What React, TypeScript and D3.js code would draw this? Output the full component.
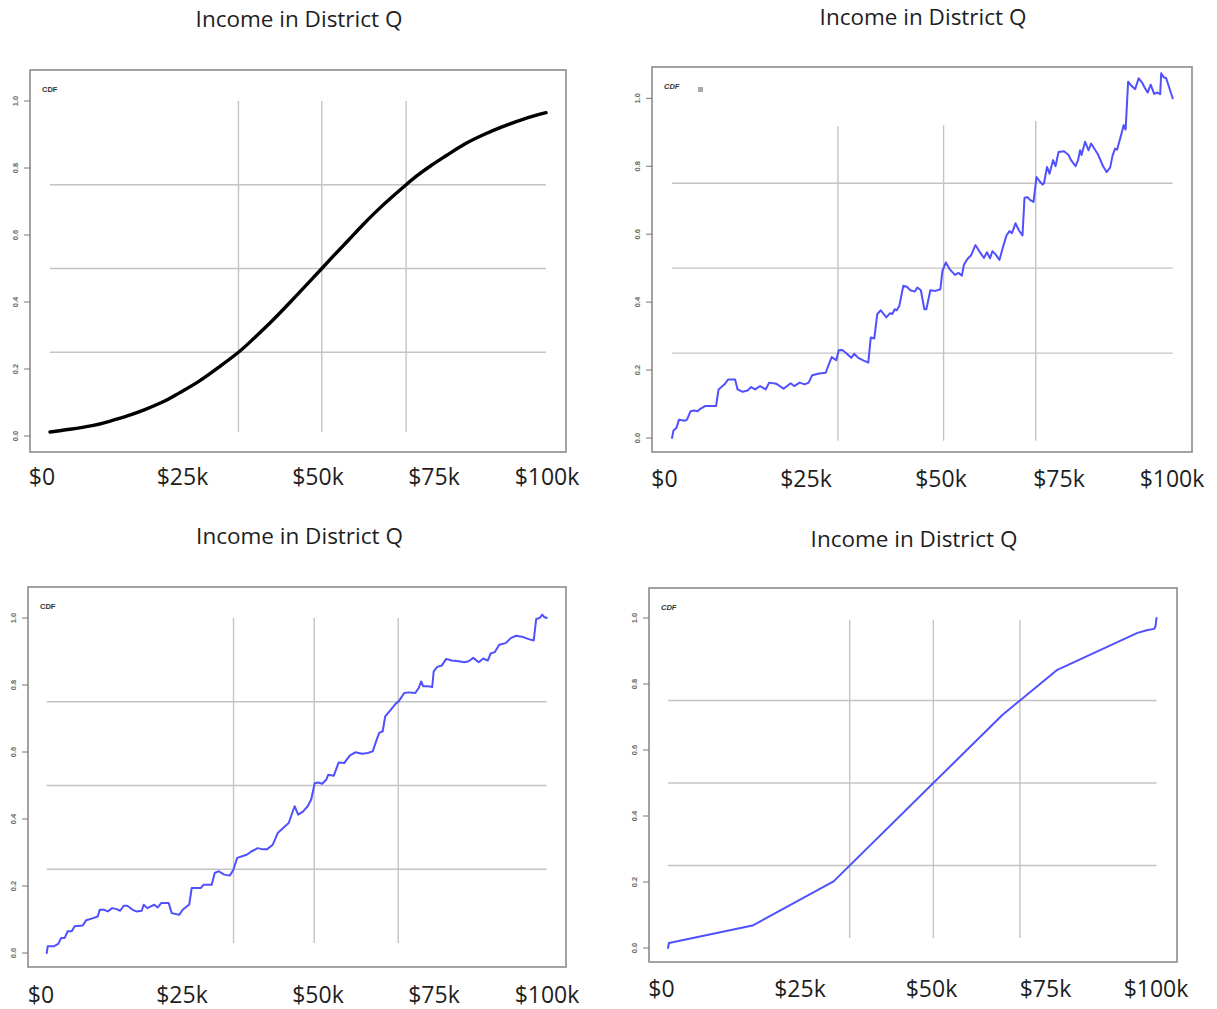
import React from 'react';
import * as d3 from 'd3';

// Four empirical CDF panels, "Income in District Q"
const W = 1217;
const H = 1009;

const TITLE = 'Income in District Q';
const X_LABELS = ['$0', '$25k', '$50k', '$75k', '$100k'];
const X_LABEL_VALUES = [0, 25, 50, 75, 100];
const Y_TICKS = [0, 0.2, 0.4, 0.6, 0.8, 1.0];
const QUARTILES = [0.25, 0.5, 0.75];

// top left: smooth theoretical CDF (income in $k)
const SMOOTH_INCOME = [
  0, 4, 8.5, 12, 15.6, 19, 22.8, 26, 30, 34, 38, 41, 44.4, 47.5, 50.1,
  54.8, 57.5, 60.2, 63, 65.9, 69, 71.8, 74, 76.7, 80, 83.8, 87.5, 91, 95.5, 100,
];
const SMOOTH_CDF = [
  0.012, 0.02, 0.031, 0.044, 0.06, 0.078, 0.102, 0.128, 0.163, 0.205, 0.25, 0.29, 0.338, 0.385, 0.426,
  0.5, 0.543, 0.585, 0.629, 0.672, 0.714, 0.75, 0.777, 0.806, 0.838, 0.873, 0.9, 0.922, 0.946, 0.965,
];

// top right: noisy sample curve
const NOISY_A_INCOME = [
  0, 0.3, 0.9, 1.4, 2.6, 3.0, 3.7, 4.4, 5.1, 5.5,
  6.6, 8.0, 8.8, 9.3, 10.5, 11.2, 12.6, 13.1, 14.1, 15.1,
  15.8, 16.6, 17.6, 18.7, 19.4, 20.8, 22.3, 23.7, 24.4, 25.5,
  26.5, 27.3, 28.0, 29.4, 30.7, 31.2, 31.9, 32.8, 33.3, 34.0,
  34.7, 35.8, 36.4, 37.2, 38.3, 39.2, 39.7, 40.4, 41.0, 41.7,
  42.8, 43.5, 44.0, 44.5, 44.9, 45.4, 46.2, 46.9, 47.6, 48.5,
  49.0, 49.7, 50.4, 50.8, 51.6, 52.6, 53.6, 54.0, 54.7, 55.4,
  56.5, 57.2, 57.9, 58.3, 59.0, 59.7, 60.6, 61.5, 62.3, 62.9,
  63.5, 64.0, 64.7, 65.4, 66.1, 66.8, 67.4, 67.9, 68.6, 69.3,
  70.0, 70.4, 71.0, 71.5, 72.2, 72.8, 73.3, 74.0, 74.3, 74.9,
  75.4, 76.1, 76.6, 77.2, 78.3, 79.2, 79.7, 80.6, 81.1, 81.5,
  81.8, 82.5, 83.2, 83.7, 85.0, 86.1, 86.8, 87.5, 88.0, 88.5,
  88.9, 89.7, 90.2, 90.6, 91.1, 91.8, 92.5, 93.2, 93.9, 94.4,
  95.0, 95.6, 96.3, 97.0, 97.5, 97.7, 98.2, 98.7, 100,
];
const NOISY_A_CDF = [
  0, 0.022, 0.03, 0.054, 0.051, 0.054, 0.079, 0.081, 0.079, 0.084,
  0.094, 0.094, 0.094, 0.143, 0.158, 0.172, 0.172, 0.143, 0.136, 0.14,
  0.15, 0.143, 0.153, 0.143, 0.163, 0.16, 0.145, 0.161, 0.153, 0.163,
  0.158, 0.163, 0.185, 0.19, 0.192, 0.212, 0.238, 0.229, 0.258, 0.259,
  0.251, 0.236, 0.248, 0.236, 0.228, 0.222, 0.296, 0.293, 0.365, 0.376,
  0.355, 0.367, 0.365, 0.379, 0.376, 0.389, 0.448, 0.445, 0.435, 0.431,
  0.443, 0.435, 0.379, 0.379, 0.435, 0.433, 0.438, 0.491, 0.517, 0.498,
  0.48, 0.486, 0.478, 0.51, 0.527, 0.537, 0.568, 0.547, 0.53, 0.547,
  0.529, 0.55, 0.539, 0.524, 0.562, 0.596, 0.609, 0.603, 0.632, 0.611,
  0.596, 0.707, 0.709, 0.701, 0.695, 0.768, 0.758, 0.746, 0.75, 0.798,
  0.778, 0.818, 0.8, 0.842, 0.844, 0.833, 0.818, 0.8, 0.818, 0.847,
  0.833, 0.872, 0.847, 0.867, 0.837, 0.8, 0.783, 0.796, 0.832, 0.852,
  0.849, 0.892, 0.921, 0.908, 1.049, 1.036, 1.027, 1.059, 1.046, 1.032,
  1.017, 1.04, 1.013, 1.017, 1.012, 1.074, 1.062, 1.059, 1.0,
];

// bottom left: second noisy sample curve
const NOISY_B_INCOME = [
  0, 0.2, 1.4, 2.3, 2.9, 3.6, 4.2, 5.0, 5.6, 7.2,
  7.9, 9.3, 10.2, 10.6, 11.5, 12.2, 13.1, 14.0, 14.7, 15.4,
  16.1, 17.2, 17.9, 19.0, 19.4, 20.1, 21.5, 22.2, 22.9, 24.4,
  25.0, 26.5, 27.2, 28.0, 28.5, 29.0, 30.8, 31.4, 33.0, 33.6,
  34.4, 35.5, 36.6, 37.3, 38.1, 39.1, 40.1, 40.9, 42.2, 43.0,
  44.1, 45.2, 46.2, 47.3, 48.4, 49.1, 49.6, 50.3, 51.3, 52.2,
  52.9, 53.6, 54.3, 55.1, 55.9, 56.3, 57.4, 58.4, 59.5, 60.6,
  61.7, 63.1, 64.2, 65.2, 66.0, 66.5, 67.2, 67.7, 68.8, 69.9,
  70.4, 71.5, 72.4, 73.7, 74.4, 74.9, 75.3, 76.3, 77.1, 77.4,
  78.1, 79.0, 79.9, 81.0, 82.4, 83.5, 84.4, 85.3, 86.4, 87.3,
  88.2, 88.8, 89.6, 90.5, 91.8, 92.8, 93.9, 95.3, 96.4, 97.4,
  97.9, 98.6, 99.1, 99.5, 100,
];
const NOISY_B_CDF = [
  0, 0.02, 0.02, 0.027, 0.045, 0.045, 0.065, 0.065, 0.08, 0.082,
  0.098, 0.104, 0.109, 0.129, 0.129, 0.124, 0.134, 0.131, 0.126, 0.141,
  0.141, 0.129, 0.124, 0.126, 0.144, 0.134, 0.144, 0.136, 0.149, 0.149,
  0.119, 0.114, 0.129, 0.139, 0.144, 0.194, 0.194, 0.204, 0.204, 0.239,
  0.244, 0.234, 0.231, 0.247, 0.284, 0.289, 0.294, 0.303, 0.313, 0.31,
  0.31, 0.323, 0.358, 0.373, 0.388, 0.418, 0.438, 0.413, 0.423, 0.438,
  0.458, 0.507, 0.509, 0.505, 0.517, 0.532, 0.529, 0.569, 0.567, 0.589,
  0.599, 0.595, 0.597, 0.602, 0.637, 0.657, 0.662, 0.706, 0.726, 0.746,
  0.751, 0.776, 0.778, 0.776, 0.791, 0.811, 0.796, 0.796, 0.794, 0.841,
  0.854, 0.858, 0.878, 0.873, 0.871, 0.868, 0.871, 0.881, 0.868, 0.879,
  0.873, 0.894, 0.898, 0.92, 0.925, 0.94, 0.947, 0.943, 0.937, 0.933,
  0.997, 1.0, 1.01, 1.003, 1.0,
];

// bottom right: piecewise linear curve from a few knots
const COARSE_INCOME = [0, 0.2, 17.3, 33.9, 68.5, 79.7, 96.1, 98.0, 99.5, 99.8, 100];
const COARSE_CDF = [0, 0.015, 0.068, 0.202, 0.707, 0.843, 0.955, 0.963, 0.967, 0.975, 1.0];

const BLUE = '#5050ff';
const FONT = "'Open Sans', sans-serif";

const PANELS = [
  {
    id: 'p1', income: SMOOTH_INCOME, cdf: SMOOTH_CDF, smooth: true, color: '#000', lw: 3.4,
    box: [30, 70, 566, 452], plotX: [50, 546], plotY: [436, 101],
    title: [299, 27], labelX: [42, 182.5, 318, 434, 547], labelY: 485,
    vTop: [1, 1, 1], vBottom: 0.012, italic: false, marker: false,
  },
  {
    id: 'p2', income: NOISY_A_INCOME, cdf: NOISY_A_CDF, smooth: false, color: BLUE, lw: 2,
    box: [652, 67, 1192, 452], plotX: [672, 1172.7], plotY: [438, 98.3],
    title: [923, 25], labelX: [664.5, 806, 941, 1059, 1172], labelY: 487,
    vTop: [0.918, 0.921, 0.933], vBottom: -0.008, italic: true, marker: true,
  },
  {
    id: 'p3', income: NOISY_B_INCOME, cdf: NOISY_B_CDF, smooth: false, color: BLUE, lw: 2,
    box: [28, 587, 566, 967], plotX: [46.7, 546.7], plotY: [953, 618],
    title: [299.5, 544], labelX: [41, 182, 318, 434, 547], labelY: 1003,
    vTop: [1, 1, 1], vBottom: 0.03, italic: false, marker: false,
  },
  {
    id: 'p4', income: COARSE_INCOME, cdf: COARSE_CDF, smooth: false, color: BLUE, lw: 2,
    box: [649, 588, 1177, 962], plotX: [668, 1156.5], plotY: [948, 618],
    title: [914, 547], labelX: [661.5, 800, 931.5, 1045.5, 1156], labelY: 997,
    vTop: [0.995, 0.995, 0.995], vBottom: 0.03, italic: true, marker: false,
  },
];

// income where the curve first reaches q
function crossing(xs: number[], ys: number[], q: number): number {
  const i = ys.findIndex(v => v >= q);
  if (i <= 0) return xs[Math.max(0, i)];
  const t = (q - ys[i - 1]) / (ys[i] - ys[i - 1]);
  return xs[i - 1] + t * (xs[i] - xs[i - 1]);
}

const fmt = d3.format('.1f');

function Panel({ p }: { p: typeof PANELS[number] }) {
  const x = d3.scaleLinear().domain([0, 100]).range(p.plotX);
  const y = d3.scaleLinear().domain([0, 1]).range(p.plotY);
  const labelScale = d3.scaleLinear().domain(X_LABEL_VALUES).range(p.labelX);
  const pts: [number, number][] = p.income.map((v, i) => [v, p.cdf[i]]);
  const line = d3.line<[number, number]>()
    .x(d => x(d[0]))
    .y(d => y(d[1]))
    .curve(p.smooth ? d3.curveNatural : d3.curveLinear);
  const qx = QUARTILES.map(q => crossing(p.income, p.cdf, q));
  const [bx0, by0, bx1, by1] = p.box;

  return (
    <g>
      <text x={p.title[0]} y={p.title[1]} textAnchor="middle" fontFamily={FONT} fontSize={22.5} fill="#1e1e1e">
        {TITLE}
      </text>

      {/* grid */}
      {QUARTILES.map(q => (
        <line key={'h' + q} x1={x(0)} x2={x(100)} y1={y(q)} y2={y(q)} stroke="#c4c4c4" strokeWidth={1.4} />
      ))}
      {qx.map((v, i) => (
        <line key={'v' + i} x1={x(v)} x2={x(v)} y1={y(p.vTop[i])} y2={y(p.vBottom)} stroke="#c4c4c4" strokeWidth={1.4} />
      ))}

      <path d={line(pts) ?? undefined} fill="none" stroke={p.color} strokeWidth={p.lw} strokeLinejoin="round" strokeLinecap="round" />

      <rect x={bx0} y={by0} width={bx1 - bx0} height={by1 - by0} fill="none" stroke="#8c8c8c" strokeWidth={1.6} />

      {/* y axis */}
      {Y_TICKS.map(t => (
        <g key={t}>
          <line x1={bx0 - 6} x2={bx0} y1={y(t)} y2={y(t)} stroke="#777" strokeWidth={1} />
          <text
            transform={`translate(${bx0 - 15},${y(t)}) rotate(-90)`}
            textAnchor="middle"
            dominantBaseline="central"
            fontFamily="'Liberation Sans', Arial, sans-serif"
            fontSize={7.5}
            fontWeight="bold"
            fill="#6a6a6a"
          >
            {fmt(t)}
          </text>
        </g>
      ))}

      <text
        x={bx0 + 12}
        y={by0 + 22}
        fontFamily="'Liberation Sans', Arial, sans-serif"
        fontSize={7.5}
        fontWeight="bold"
        fontStyle={p.italic ? 'italic' : 'normal'}
        fill="#333"
      >
        CDF
      </text>
      {p.marker && <rect x={bx0 + 46} y={by0 + 20} width={5} height={5} fill="#aaa" />}

      {/* x labels */}
      {X_LABELS.map((s, i) => (
        <text key={s} x={labelScale(X_LABEL_VALUES[i])} y={p.labelY} textAnchor="middle" fontFamily={FONT} fontSize={23} fill="#1e1e1e">
          {s}
        </text>
      ))}
    </g>
  );
}

export default function App() {
  return (
    <div style={{ position: 'absolute', left: 0, top: 0, width: W, height: H, background: '#fff' }}>
      <svg width={W} height={H} viewBox={`0 0 ${W} ${H}`} style={{ display: 'block' }}>
        <rect width={W} height={H} fill="#fff" />
        {PANELS.map(p => <Panel key={p.id} p={p} />)}
      </svg>
    </div>
  );
}
